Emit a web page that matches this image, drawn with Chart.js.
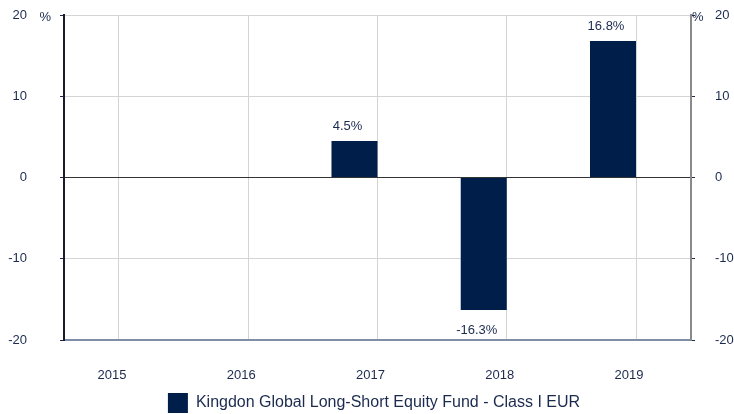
<!DOCTYPE html>
<html>
<head>
<meta charset="utf-8">
<script src="https://cdn.jsdelivr.net/npm/chart.js@4"></script>
<style>
  body { margin: 0; background: #fff; }
  #wrap { width: 734px; height: 414px; }
</style>
</head>
<body>
<div id="wrap"><canvas id="returnsChart"></canvas></div>
<script>
// annual returns, %
const years = ['2015', '2016', '2017', '2018', '2019'];
const returns = [null, null, 4.5, -16.3, 16.8];
const yTicks = [-20, -10, 0, 10, 20];
const fundName = 'Kingdon Global Long-Short Equity Fund - Class I EUR';

const navy = '#001e4a';
const textColor = '#1b2a4e';
const labelShift = -7;

// value labels over / under the bars
const valueLabels = {
    id: 'valueLabels',
    afterDatasetsDraw(chart) {
        const ctx = chart.ctx;
        const meta = chart.getDatasetMeta(0);
        ctx.save();
        ctx.font = '13px "Liberation Sans", Arial, sans-serif';
        ctx.fillStyle = textColor;
        ctx.textAlign = 'center';
        ctx.textBaseline = 'middle';
        meta.data.forEach((bar, i) => {
            const v = returns[i];
            if (v === null) return;
            const y = v >= 0 ? bar.y - 15 : bar.y + 20;
            ctx.fillText(v.toFixed(1) + '%', bar.x + labelShift, y);
        });
        ctx.restore();
    }
};

// "%" unit next to the top of each y axis
const unitLabels = {
    id: 'unitLabels',
    afterDraw(chart) {
        const ctx = chart.ctx;
        const area = chart.chartArea;
        const top = chart.scales.y.getPixelForValue(yTicks[yTicks.length - 1]);
        ctx.save();
        ctx.font = '13px "Liberation Sans", Arial, sans-serif';
        ctx.fillStyle = textColor;
        ctx.textBaseline = 'middle';
        ctx.textAlign = 'right';
        ctx.fillText('%', area.left - 13, top + 2);
        ctx.textAlign = 'left';
        ctx.fillText('%', area.right + 1, top + 2);
        ctx.restore();
    }
};

function yAxis(position) {
    const left = position === 'left';
    return {
        position: position,
        min: yTicks[0],
        max: yTicks[yTicks.length - 1],
        afterBuildTicks: scale => { scale.ticks = yTicks.map(v => ({ value: v })); },
        afterFit: scale => {
            scale.width = left ? 64 : 57;
            scale.paddingTop = 0;
            scale.paddingBottom = 0;
        },
        border: { color: left ? '#1a1a2a' : '#8a8a8a', width: 2 },
        grid: {
            drawOnChartArea: left,
            tickLength: 4,
            tickColor: textColor,
            color: c => c.tick && c.tick.value === 0 ? '#333' : '#d4d4d4'
        },
        ticks: {
            padding: left ? 33 : 20,
            color: textColor,
            font: { size: 13, family: '"Liberation Sans", Arial, sans-serif' }
        }
    };
}

const ctx = document.getElementById('returnsChart').getContext('2d');
new Chart(ctx, {
    type: 'bar',
    data: {
        datasets: [
            {
                label: fundName,
                data: returns.map((v, i) => ({ x: i, y: v })),
                backgroundColor: navy,
                categoryPercentage: 0.712,
                barPercentage: 1
            },
            {
                // empty partner so each bar sits left of its grid line
                label: '',
                data: years.map((y, i) => ({ x: i, y: null })),
                backgroundColor: 'transparent',
                categoryPercentage: 0.712,
                barPercentage: 1
            }
        ]
    },
    options: {
        responsive: true,
        maintainAspectRatio: false,
        animation: false,
        layout: { padding: { top: 15, bottom: -9, left: 0, right: -14 } },
        scales: {
            x: {
                type: 'linear',
                offset: false,
                min: -0.4255,
                max: years.length - 1 + 0.4255,
                bounds: 'data',
                afterBuildTicks: scale => { scale.ticks = years.map((y, i) => ({ value: i })); },
                afterFit: scale => {
                    scale.height = 52;
                    scale.paddingLeft = 0;
                    scale.paddingRight = 0;
                },
                border: { color: '#7f8ea8', width: 2 },
                grid: { color: '#d4d4d4', drawTicks: false, offset: false },
                ticks: {
                    padding: 28,
                    maxRotation: 0,
                    autoSkip: false,
                    labelOffset: labelShift,
                    color: textColor,
                    font: { size: 13, family: '"Liberation Sans", Arial, sans-serif' },
                    callback: v => years[v]
                }
            },
            y: yAxis('left'),
            y2: yAxis('right')
        },
        plugins: {
            legend: {
                position: 'bottom',
                labels: {
                    boxWidth: 20,
                    boxHeight: 20,
                    padding: 1,
                    color: textColor,
                    font: { size: 16, family: '"Liberation Sans", Arial, sans-serif' },
                    filter: item => item.datasetIndex === 0
                }
            },
            tooltip: { enabled: false }
        }
    },
    plugins: [valueLabels, unitLabels]
});
</script>
</body>
</html>
